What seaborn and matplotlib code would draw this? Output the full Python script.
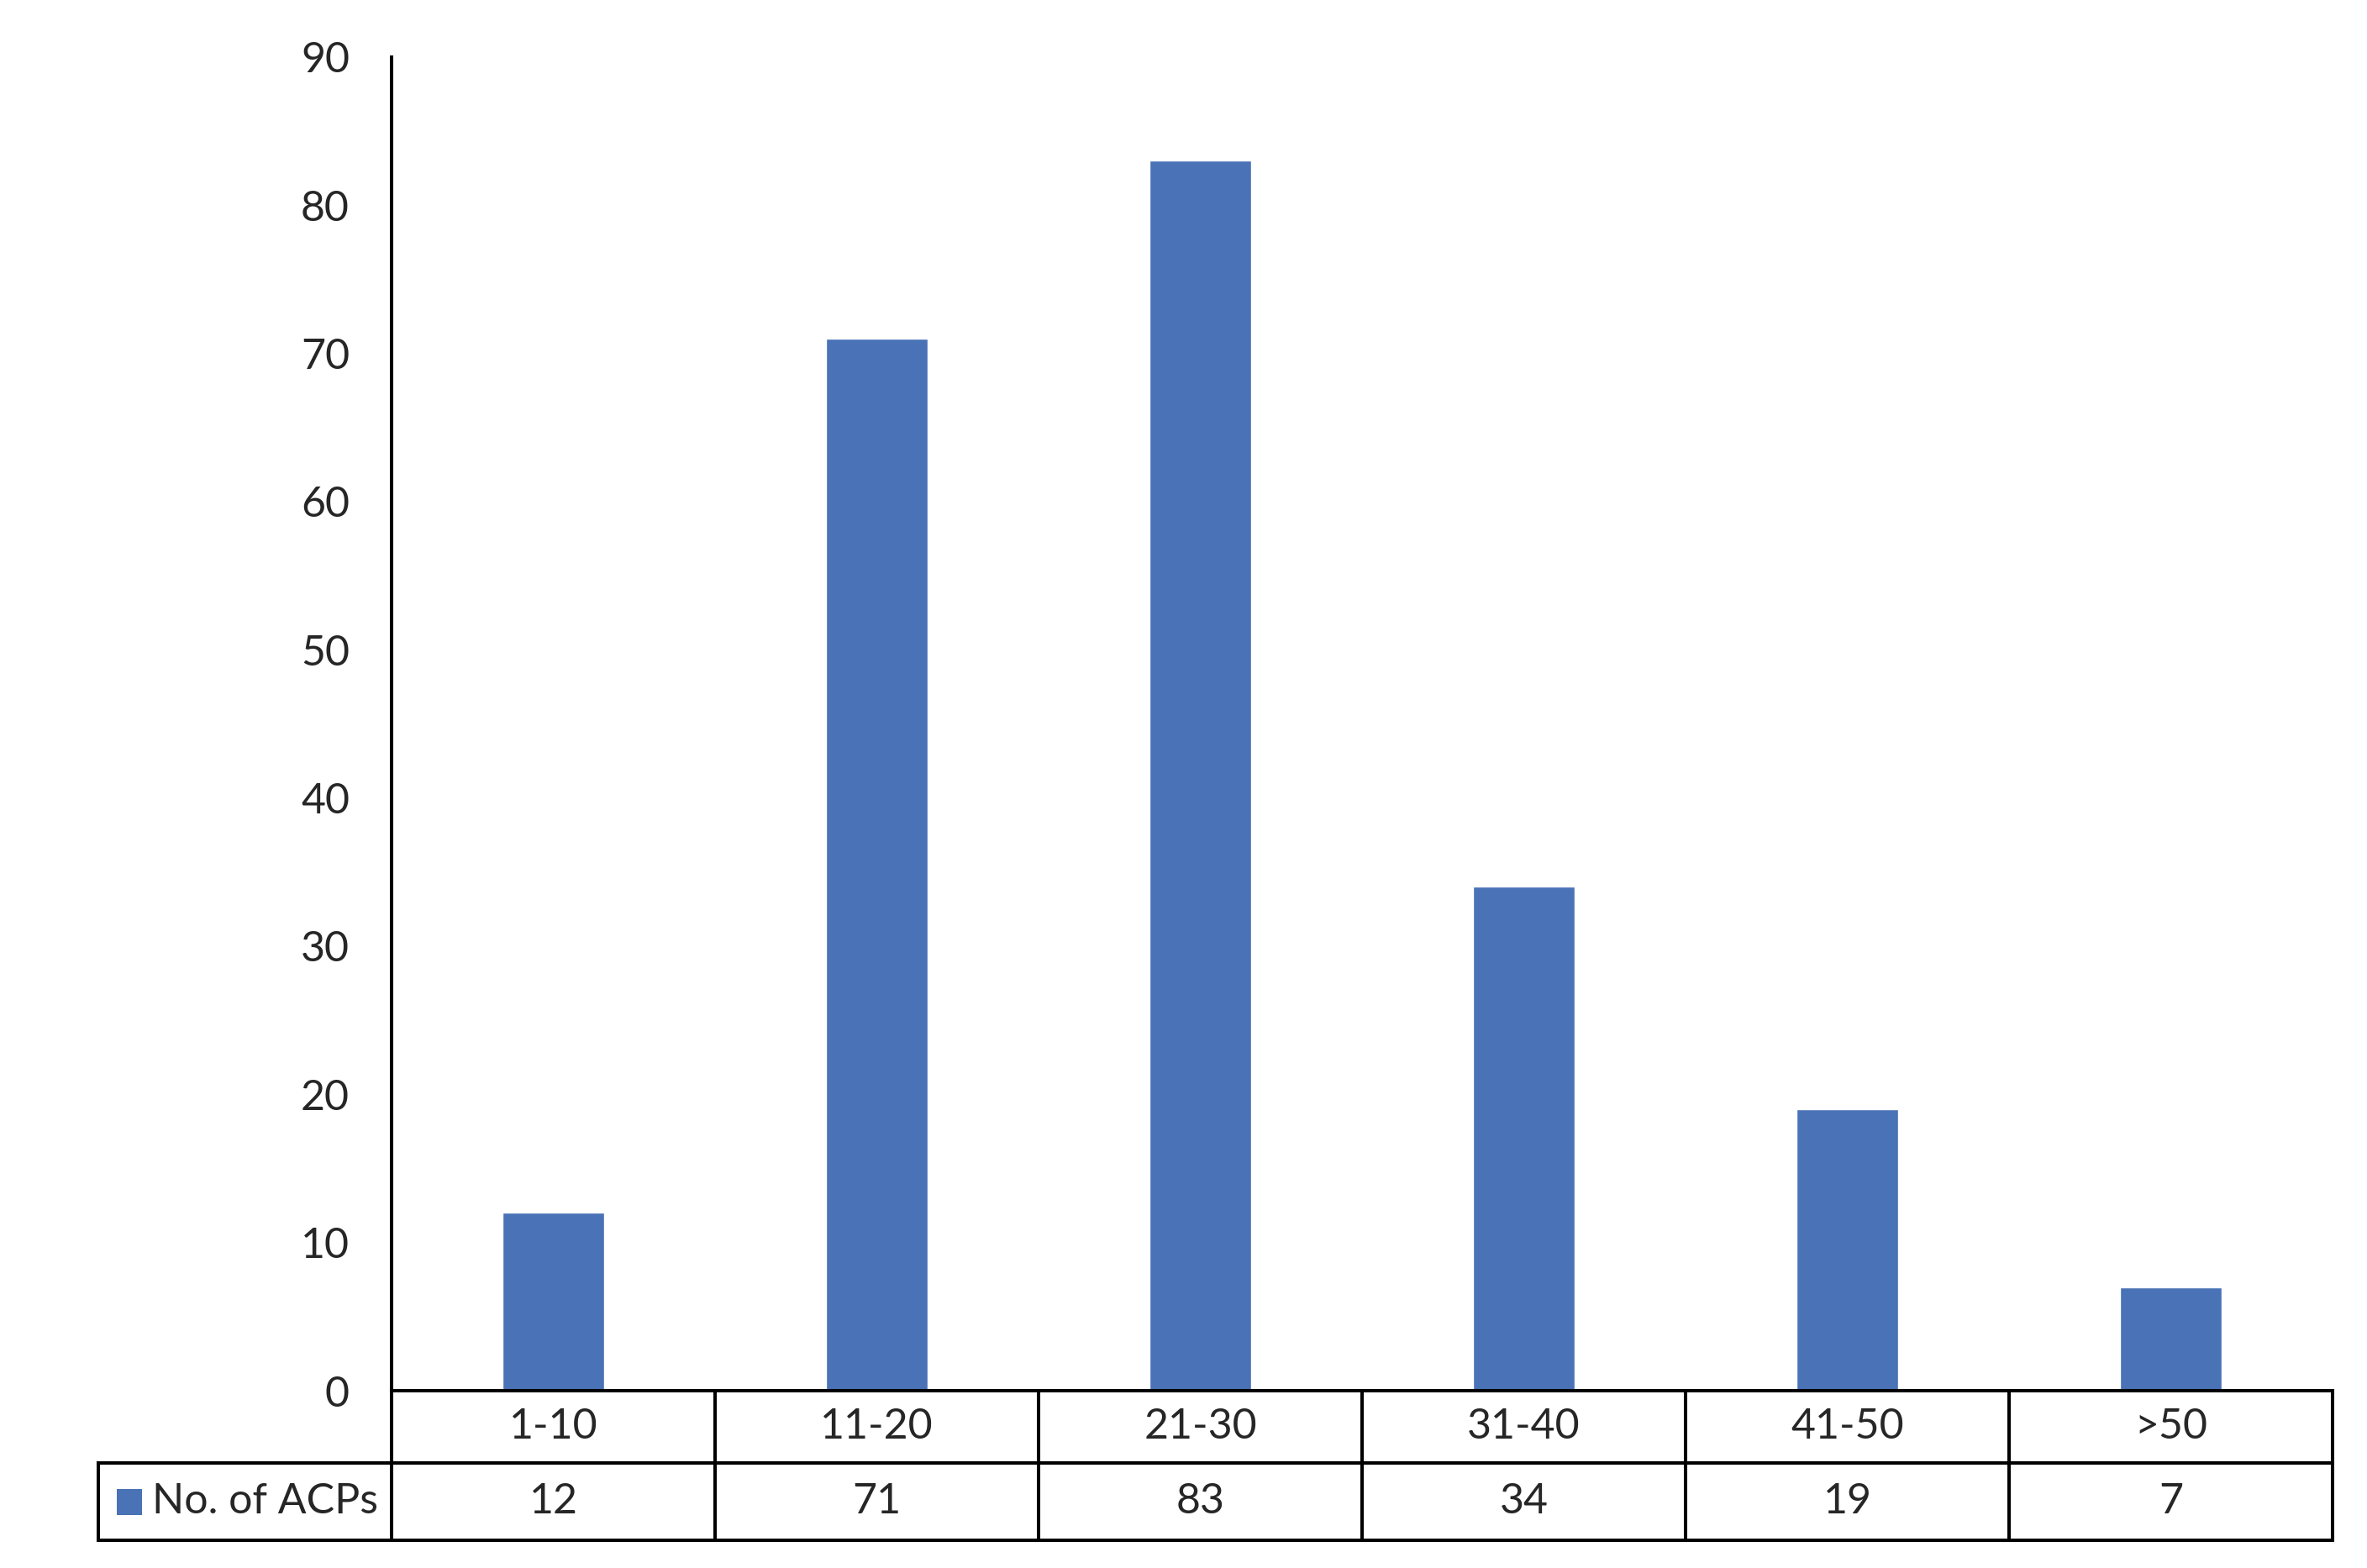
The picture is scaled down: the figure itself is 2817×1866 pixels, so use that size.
import matplotlib
matplotlib.use("Agg")
import matplotlib.pyplot as plt
import matplotlib.transforms as mtransforms
from matplotlib.patches import Rectangle
import seaborn as sns
import pandas as pd

# chart data
categories = ["1-10", "11-20", "21-30", "31-40", "41-50", ">50"]
acp_counts = [12, 71, 83, 34, 19, 7]
series_name = "No. of ACPs"
y_ticks = [0, 10, 20, 30, 40, 50, 60, 70, 80, 90]

bar_color = "#4a72b6"

sns.set_theme(style="white")
plt.rcParams["font.family"] = ["Lato", "DejaVu Sans"]

df = pd.DataFrame({"range": categories, "count": acp_counts})

W, H = 2817, 1866
fig = plt.figure(figsize=(W / 100, H / 100), dpi=100)
# axes box in pixels: left 466, right 2776, top 68, baseline 1655
ax = fig.add_axes([466 / W, (H - 1655) / H, (2776 - 466) / W, (1655 - 68) / H])

sns.barplot(data=df, x="range", y="count", color=bar_color, width=0.314,
            saturation=1, ax=ax)

ax.set_xlim(-0.5, len(categories) - 0.5)
ax.set_ylim(0, 90)
ax.set_yticks(y_ticks)
ax.set_yticklabels([str(t) for t in y_ticks], fontsize=36)
ax.set_xticks([])
ax.set_xlabel("")
ax.set_ylabel("")
ax.tick_params(axis="y", length=0, pad=36)

for side in ["top", "right", "bottom"]:
    ax.spines[side].set_visible(False)
ax.spines["left"].set_color("black")
ax.spines["left"].set_linewidth(2.9)

# data table under the plot
trans = mtransforms.blended_transform_factory(ax.transData, ax.transAxes)
axes_h = 1655 - 68
y1 = -(1741 - 1655) / axes_h
y2 = -(1833 - 1655) / axes_h
x_left = -0.5
x_right = len(categories) - 0.5
x_leg = -0.5 + (117 - 466) / 385
lw = 2.9
line_kw = dict(color="black", lw=lw, transform=trans, clip_on=False,
               solid_capstyle="projecting")

ax.plot([x_left, x_right], [0, 0], **line_kw)
ax.plot([x_leg, x_right], [y1, y1], **line_kw)
ax.plot([x_leg, x_right], [y2, y2], **line_kw)
ax.plot([x_leg, x_leg], [y1, y2], **line_kw)
for i in range(len(categories) + 1):
    ax.plot([x_left + i, x_left + i], [0, y2], **line_kw)

for i, (cat, val) in enumerate(zip(categories, acp_counts)):
    ax.text(i, y1 / 2, cat, ha="center", va="center", fontsize=36,
            transform=trans, clip_on=False)
    ax.text(i, (y1 + y2) / 2, str(val), ha="center", va="center",
            fontsize=36, transform=trans, clip_on=False)

# legend key in the table
sq_w = 31 / 385
sq_h = 31 / axes_h
sq_cx = -0.5 + (154 - 466) / 385
ax.add_patch(Rectangle((sq_cx - sq_w / 2, (y1 + y2) / 2 - sq_h / 2), sq_w, sq_h,
                       facecolor=bar_color, edgecolor="none",
                       transform=trans, clip_on=False))
ax.text(-0.5 + (181 - 466) / 385, (y1 + y2) / 2, series_name, ha="left",
        va="center", fontsize=36, transform=trans, clip_on=False)

fig.savefig("out.png", dpi=100, facecolor="white")
